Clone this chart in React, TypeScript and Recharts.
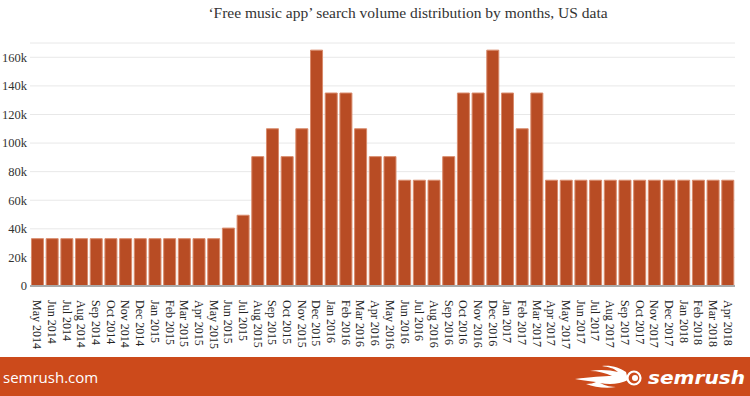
import React from "react";
import { BarChart, Bar, XAxis, YAxis, CartesianGrid } from "recharts";

/* ── Data ─────────────────────────────── */
const MONTHS = [
  "May 2014", "Jun 2014", "Jul 2014", "Aug 2014", "Sep 2014", "Oct 2014",
  "Nov 2014", "Dec 2014", "Jan 2015", "Feb 2015", "Mar 2015", "Apr 2015",
  "May 2015", "Jun 2015", "Jul 2015", "Aug 2015", "Sep 2015", "Oct 2015",
  "Nov 2015", "Dec 2015", "Jan 2016", "Feb 2016", "Mar 2016", "Apr 2016",
  "May 2016", "Jun 2016", "Jul 2016", "Aug 2016", "Sep 2016", "Oct 2016",
  "Nov 2016", "Dec 2016", "Jan 2017", "Feb 2017", "Mar 2017", "Apr 2017",
  "May 2017", "Jun 2017", "Jul 2017", "Aug 2017", "Sep 2017", "Oct 2017",
  "Nov 2017", "Dec 2017", "Jan 2018", "Feb 2018", "Mar 2018", "Apr 2018",
];

const VOLUME = [
  33100, 33100, 33100, 33100, 33100, 33100,
  33100, 33100, 33100, 33100, 33100, 33100,
  33100, 40500, 49500, 90500, 110000, 90500,
  110000, 165000, 135000, 135000, 110000, 90500,
  90500, 74000, 74000, 74000, 90500, 135000,
  135000, 165000, 135000, 110000, 135000, 74000,
  74000, 74000, 74000, 74000, 74000, 74000,
  74000, 74000, 74000, 74000, 74000, 74000,
];

const Y_TICKS = [0, 20000, 40000, 60000, 80000, 100000, 120000, 140000, 160000];

const data = MONTHS.map((month, i) => ({ month, volume: VOLUME[i] }));

const SERIF = '"Liberation Serif", "Times New Roman", serif';

function MonthTick(props: any) {
  const { x, y, payload } = props;
  return (
    <text
      x={x}
      y={y + 6}
      transform={`rotate(90, ${x}, ${y + 6})`}
      textAnchor="start"
      dominantBaseline="central"
      fontSize={12}
      fontFamily={SERIF}
      fill="#222"
    >
      {payload.value}
    </text>
  );
}

function Logo() {
  return (
    <svg width={180} height={39} style={{ position: "absolute", left: 570, top: 0 }}>
      {/* flame */}
      <path d="M5 22 C20 20 34 19 42 19 C36 16 28 14 20 14 C30 12 40 13 48 15 C44 11 38 10 32 9 C42 8 50 11 56 15 L58 23 C50 27 40 28 30 26 C36 29 42 30 46 30 C36 32 24 30 16 27 C20 27 24 26 26 25 C18 24 10 23 5 22 Z" fill="#fff" />
      <circle cx={64} cy={21} r={6.5} fill="none" stroke="#fff" strokeWidth={2.2} />
      <circle cx={65} cy={21} r={3} fill="#fff" />
      <text
        x={78}
        y={27}
        fontSize={17}
        fontWeight={700}
        fontStyle="italic"
        fontFamily='"DejaVu Sans", sans-serif'
        fill="#fff"
        textLength={97}
        lengthAdjust="spacingAndGlyphs"
      >
        semrush
      </text>
    </svg>
  );
}

export default function App() {
  return (
    <div
      style={{
        position: "absolute",
        left: 0,
        top: 0,
        width: 750,
        height: 396,
        background: "#fff",
        overflow: "hidden",
      }}
    >
      <div
        style={{
          position: "absolute",
          top: 4,
          left: 0,
          width: 816,
          textAlign: "center",
          fontFamily: SERIF,
          fontSize: 15.5,
          color: "#333",
        }}
      >
        ‘Free music app’ search volume distribution by months, US data
      </div>

      <div style={{ position: "absolute", top: 0, left: 0 }}>
        <BarChart
          width={750}
          height={357}
          data={data}
          margin={{ top: 43, right: 15, left: 0, bottom: 5 }}
          barCategoryGap="10%"
        >
          <CartesianGrid vertical={false} stroke="#e8e8e8" />
          <XAxis
            dataKey="month"
            interval={0}
            height={66}
            tickLine={false}
            axisLine={{ stroke: "#aaa", strokeWidth: 2 }}
            tick={<MonthTick />}
          />
          <YAxis
            width={30}
            domain={[0, 170000]}
            ticks={Y_TICKS}
            axisLine={false}
            tickLine={false}
            tickSize={0}
            tickMargin={3}
            tickFormatter={(v: number) => (v === 0 ? "0" : `${v / 1000}k`)}
            tick={{ fontSize: 12.5, fontFamily: SERIF, fill: "#333" }}
          />
          <Bar
            dataKey="volume"
            fill="#b84c24"
            stroke="#d98b6c"
            strokeWidth={1}
            isAnimationActive={false}
          />
        </BarChart>
      </div>

      {/* footer band */}
      <div
        style={{
          position: "absolute",
          left: 0,
          top: 357,
          width: 750,
          height: 39,
          background: "#cc4a1b",
        }}
      >
        <div
          style={{
            position: "absolute",
            left: 3,
            top: 10,
            color: "#fff",
            fontFamily: '"Open Sans", "DejaVu Sans", sans-serif',
            fontSize: 15,
          }}
        >
          semrush.com
        </div>
        <Logo />
      </div>
    </div>
  );
}
